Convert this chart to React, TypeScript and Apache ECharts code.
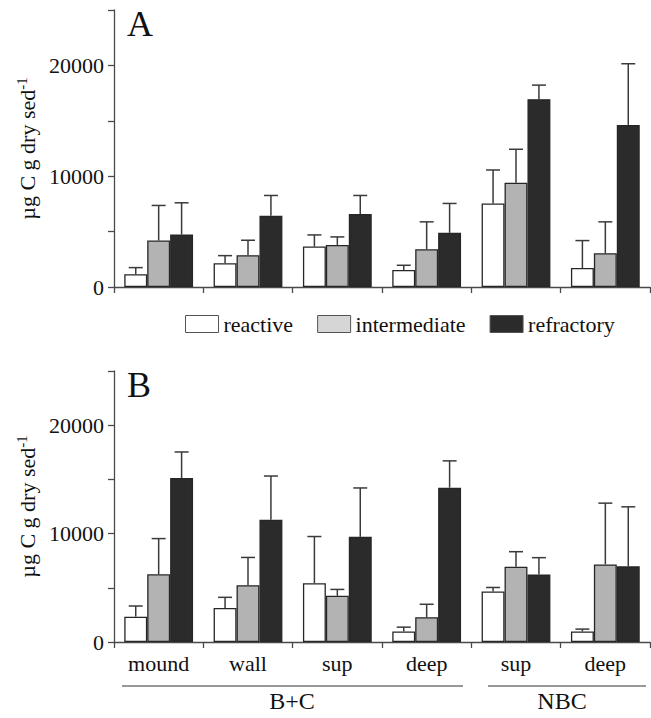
import React, { useEffect, useRef } from 'react';
import * as echarts from 'echarts';

const categories = ['mound', 'wall', 'sup', 'deep', 'sup', 'deep'];
const seriesNames = ['reactive', 'intermediate', 'refractory'];
const groupLabels = ['B+C', 'NBC'];
const yTickLabels = [0, 10000, 20000];

// Panel A values and upper error-bar ends
const aReactive = [1150, 2140, 3650, 1540, 7540, 1720];
const aReactiveErr = [1750, 2830, 4700, 1960, 10560, 4190];
const aIntermediate = [4190, 2870, 3800, 3410, 9410, 3050];
const aIntermediateErr = [7360, 4220, 4520, 5880, 12430, 5880];
const aRefractory = [4730, 6420, 6580, 4890, 16950, 14630];
const aRefractoryErr = [7600, 8260, 8260, 7540, 18220, 20150];

// Panel B values and upper error-bar ends
const bReactive = [2340, 3140, 5430, 970, 4670, 970];
const bReactiveErr = [3320, 4120, 9730, 1370, 5030, 1190];
const bIntermediate = [6250, 5240, 4260, 2290, 6950, 7160];
const bIntermediateErr = [9540, 7800, 4850, 3480, 8330, 12810];
const bRefractory = [15120, 11280, 9700, 14240, 6220, 6980];
const bRefractoryErr = [17530, 15310, 14210, 16710, 7780, 12470];

const FONT = "'Liberation Serif', 'Times New Roman', serif";
const AXIS = '#4a4a4a';
const barColors = ['#ffffff', '#b3b3b3', '#2b2b2b'];
const legendColors = ['#ffffff', '#d6d6d6', '#2b2b2b'];
const GAP = 0.23;
const FS = 22;

export default function App() {
  const ref = useRef<HTMLDivElement>(null);
  useEffect(() => {
    if (!ref.current) return;
    const chart = echarts.init(ref.current, null, { renderer: 'svg' });

    const panels = [
      { vals: [aReactive, aIntermediate, aRefractory], errs: [aReactiveErr, aIntermediateErr, aRefractoryErr] },
      { vals: [bReactive, bIntermediate, bRefractory], errs: [bReactiveErr, bIntermediateErr, bRefractoryErr] },
    ];

    const series: any[] = [];
    panels.forEach((p, pi) => {
      p.vals.forEach((v, si) => {
        series.push({
          type: 'bar',
          name: seriesNames[si],
          xAxisIndex: pi,
          yAxisIndex: pi,
          data: v,
          barGap: '0%',
          barCategoryGap: GAP * 100 + '%',
          itemStyle: { color: barColors[si], borderColor: '#262626', borderWidth: 1.3 },
          z: 2,
        });
      });
      p.errs.forEach((e, si) => {
        series.push({
          type: 'custom',
          name: seriesNames[si] + '-err',
          xAxisIndex: pi,
          yAxisIndex: pi,
          z: 3,
          data: e.map((top, i) => [i, top, p.vals[si][i]]),
          encode: { x: 0, y: 1 },
          renderItem: (params: any, api: any) => {
            const cat = api.value(0);
            const top = api.coord([cat, api.value(1)]);
            const base = api.coord([cat, api.value(2)]);
            const band = api.size([1, 0])[0];
            const bw = (band * (1 - GAP)) / 3;
            const x = top[0] + (si - 1) * bw;
            const st = { stroke: '#3a3a3a', lineWidth: 1.5 };
            return {
              type: 'group',
              children: [
                { type: 'line', shape: { x1: x, y1: base[1], x2: x, y2: top[1] }, style: st },
                { type: 'line', shape: { x1: x - 7, y1: top[1], x2: x + 7, y2: top[1] }, style: st },
              ],
            };
          },
        });
      });
    });

    const yAxisBase = (pi: number) => ({
      type: 'value',
      gridIndex: pi,
      min: 0,
      max: 25000,
      interval: 5000,
      axisLine: { show: true, lineStyle: { color: AXIS, width: 1.3 } },
      axisTick: { show: true, length: 6, lineStyle: { color: AXIS, width: 1.3 } },
      splitLine: { show: false },
      axisLabel: {
        formatter: (v: number) => (yTickLabels.includes(v) ? String(v) : ''),
        fontSize: FS,
        fontFamily: FONT,
        color: '#111',
        margin: 10,
      },
      name: '{a|µg C g dry sed}{s|-1}',
      nameLocation: 'middle',
      nameRotate: 90,
      nameGap: 71,
      nameTextStyle: {
        rich: {
          a: { fontSize: FS, fontFamily: FONT, color: '#111', lineHeight: 25 },
          s: { fontSize: 15, fontFamily: FONT, color: '#111', verticalAlign: 'top', lineHeight: 25 },
        },
      },
    });

    const xAxisBase = (pi: number) => ({
      type: 'category',
      gridIndex: pi,
      data: categories,
      axisLine: { show: true, lineStyle: { color: AXIS, width: 1.3 } },
      axisTick: { show: true, length: 6, lineStyle: { color: AXIS, width: 1.3 } },
      axisLabel: {
        show: pi === 1,
        fontSize: FS,
        fontFamily: FONT,
        color: '#111',
        margin: 10,
      },
    });

    chart.setOption({
      animation: false,
      backgroundColor: '#ffffff',
      grid: [
        { left: 114, top: 10, width: 536, height: 277 },
        { left: 114, top: 371, width: 536, height: 271 },
      ],
      xAxis: [xAxisBase(0), xAxisBase(1)],
      yAxis: [yAxisBase(0), yAxisBase(1)],
      legend: {
        left: 185,
        top: 313,
        padding: 0,
        itemWidth: 33,
        itemHeight: 17,
        itemGap: 24,
        icon: 'rect',
        selectedMode: false,
        textStyle: { fontSize: FS, fontFamily: FONT, color: '#111' },
        data: seriesNames.map((n, i) => ({
          name: n,
          itemStyle: { color: legendColors[i], borderColor: '#555', borderWidth: 1 },
        })),
      },
      graphic: [
        { type: 'text', x: 127, y: 6, style: { text: 'A', fontSize: 36, fontFamily: FONT, fill: '#111' } },
        { type: 'text', x: 127, y: 367, style: { text: 'B', fontSize: 36, fontFamily: FONT, fill: '#111' } },
        { type: 'line', shape: { x1: 122, y1: 686, x2: 463, y2: 686 }, style: { stroke: '#333', lineWidth: 1.2 } },
        { type: 'line', shape: { x1: 488, y1: 686, x2: 646, y2: 686 }, style: { stroke: '#333', lineWidth: 1.2 } },
        { type: 'text', x: 292, y: 701, style: { text: groupLabels[0], fontSize: 24, fontFamily: FONT, fill: '#111', align: 'center', verticalAlign: 'middle' } },
        { type: 'text', x: 562, y: 701, style: { text: groupLabels[1], fontSize: 24, fontFamily: FONT, fill: '#111', align: 'center', verticalAlign: 'middle' } },
      ],
      series,
    });
    return () => chart.dispose();
  }, []);
  return <div ref={ref} style={{ position: 'fixed', left: 0, top: 0, width: 651, height: 718 }} />;
}
